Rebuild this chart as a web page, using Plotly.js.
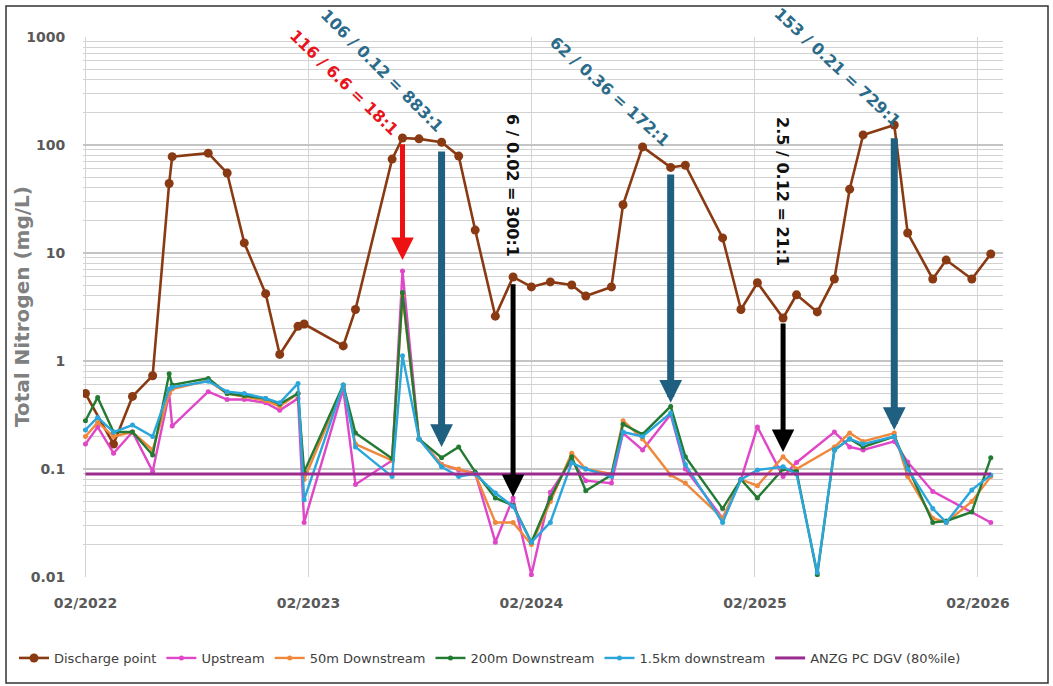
<!DOCTYPE html>
<html><head><meta charset="utf-8">
<script src="https://cdn.plot.ly/plotly-3.0.1.min.js"></script>
<style>html,body{margin:0;padding:0;background:#fff}#chart{width:1053px;height:686px}</style>
</head><body><div id="chart"></div>
<script>
// ---------- data ----------
const sampleDates = ['2022-02-01','2022-02-21','2022-03-19','2022-04-19','2022-05-22','2022-06-18','2022-06-23','2022-08-21','2022-09-21','2022-10-19','2022-11-23','2022-12-16','2023-01-15','2023-01-25','2023-03-30','2023-04-19','2023-06-18','2023-07-05','2023-08-01','2023-09-07','2023-10-05','2023-11-01','2023-12-04','2024-01-02','2024-02-01','2024-03-03','2024-04-07','2024-04-30','2024-06-11','2024-06-30','2024-08-01','2024-09-16','2024-10-10','2024-12-10','2025-01-09','2025-02-05','2025-03-19','2025-04-10','2025-05-14','2025-06-11','2025-07-06','2025-07-28','2025-09-17','2025-10-09','2025-11-19','2025-12-11','2026-01-22','2026-02-22'];
const dischargePoint = [0.5,null,0.17,0.47,0.73,44,78,84,55,12.4,4.2,1.15,2.1,2.2,1.38,3.0,74,116,114,106,79,16.3,2.6,6.0,4.85,5.4,5.05,4.0,4.85,28,96,62,65,13.8,3.0,5.3,2.5,4.1,2.85,5.75,39,124,153,15.3,5.75,8.6,5.75,9.8];
const upstream = [0.17,0.245,0.14,0.22,0.095,0.5,0.25,0.52,0.44,0.44,0.41,0.35,0.45,0.032,0.55,0.072,0.12,6.8,0.19,0.11,0.098,0.092,0.021,0.054,0.0105,0.061,0.12,0.078,0.074,0.215,0.15,0.32,0.1,0.035,0.08,0.245,0.085,0.115,null,0.22,0.16,0.15,0.18,0.116,0.062,null,null,0.032];
const down50m = [0.2,0.27,0.2,0.22,0.15,0.5,0.55,0.66,0.5,0.47,0.43,0.38,0.5,0.08,0.58,0.17,0.12,4.0,0.19,0.11,0.1,0.09,0.032,0.032,0.02,0.05,0.14,0.1,0.09,0.28,0.19,0.088,0.074,0.035,0.08,0.07,0.13,0.1,null,0.16,0.215,0.18,0.215,0.085,0.035,0.032,0.05,0.085];
const down200m = [0.28,0.46,0.22,0.22,0.135,0.76,0.6,0.69,0.5,0.48,0.45,0.4,0.5,0.094,0.6,0.215,0.125,4.3,0.19,0.127,0.16,0.094,0.054,0.046,0.021,0.054,0.13,0.063,0.088,0.26,0.21,0.38,0.13,0.043,0.08,0.054,0.1,0.095,0.0105,0.15,0.19,0.16,0.2,0.105,0.032,0.033,0.04,0.127];
const down1500m = [0.23,0.3,0.22,0.255,0.2,0.55,0.57,0.65,0.52,0.5,0.45,0.41,0.62,0.052,0.6,0.16,0.085,1.12,0.19,0.105,0.085,0.09,0.06,0.045,0.021,0.032,0.114,0.1,0.085,0.22,0.2,0.33,0.11,0.032,0.08,0.098,0.105,0.09,0.011,0.15,0.19,0.17,0.2,0.1,0.043,0.032,0.064,0.088];
const anzgDates = ['2022-02-01','2026-02-22'];
const anzgValues = [0.09,0.09];

const yTickVals = [0.01,0.1,1,10,100,1000];
const yTickText = ['0.01','0.1','1','10','100','1000'];
const xTickVals = ['2022-02-01','2023-02-01','2024-02-01','2025-02-01','2026-02-01'];
const xTickText = ['02/2022','02/2023','02/2024','02/2025','02/2026'];

// ratio arrows: from discharge value down to receiving-water value
const arrowDates = ['2023-07-05','2023-09-07','2024-01-02','2024-09-16','2025-03-19','2025-09-17'];
const arrowFrom  = [105, 90, 5.3, 55, 2.3, 119];
const arrowTo    = [8.6, 0.16, 0.055, 0.41, 0.144, 0.23];
const ratioLabels = ['116 / 6.6 = 18:1','106 / 0.12 = 883:1','6 / 0.02 = 300:1','62 / 0.36 = 172:1','2.5 / 0.12 = 21:1','153 / 0.21 = 729:1'];

// ---------- styles ----------
const arrowStyle = [
  {color:'#ee1111', width:5, size:0.9},
  {color:'#1f5f80', width:7, size:0.65},
  {color:'#000000', width:5, size:0.9},
  {color:'#1f5f80', width:7, size:0.65},
  {color:'#000000', width:5, size:0.9},
  {color:'#1f5f80', width:7, size:0.65}
];
const labelStyle = [ // pixel centre and angle
  {px:344, py:82, angle:44, color:'#e8141c'},
  {px:382, py:70, angle:45, color:'#2b6b89'},
  {px:513, py:185, angle:90, color:'#111111'},
  {px:610, py:91, angle:42, color:'#2b6b89'},
  {px:783, py:192, angle:90, color:'#111111'},
  {px:838, py:67, angle:43, color:'#2b6b89'}
];
const DAY = 86400000;
const x0ms = Date.parse('2022-02-01T00:00:00Z');
const pxPerDay = 223.3/365.25;
function pxToDate(px){
  const ms = x0ms + (px-85)/pxPerDay*DAY;
  return new Date(ms).toISOString().slice(0,19).replace('T',' ');
}
function pyToLog(py){ return 3 - (py-37)/108; }

const lineTrace = (name, y, color, mk, lw) => ({
  type:'scatter', mode:'lines+markers', name, x:sampleDates, y,
  connectgaps:true,
  line:{color, width:lw},
  marker:{color, size:mk}
});

const traces = [
  lineTrace('Discharge point', dischargePoint, '#8a3a12', 9, 2.6),
  lineTrace('Upstream', upstream, '#e046c8', 5, 2.4),
  lineTrace('50m Downstream', down50m, '#f0883c', 5, 2.4),
  lineTrace('200m Downstream', down200m, '#237a32', 5, 2.4),
  lineTrace('1.5km downstream', down1500m, '#2aa6dc', 5, 2.4),
  {type:'scatter', mode:'lines', name:'ANZG PC DGV (80%ile)', x:anzgDates, y:anzgValues,
   line:{color:'#9b2c8e', width:3}}
];

const annotations = [];
arrowDates.forEach((d,i)=>{
  const s = arrowStyle[i];
  annotations.push({
    x:d, y:Math.log10(arrowTo[i]), xref:'x', yref:'y',
    ax:d, ay:Math.log10(arrowFrom[i]), axref:'x', ayref:'y',
    text:'', showarrow:true, arrowhead:2, arrowwidth:s.width, arrowsize:s.size,
    arrowcolor:s.color, standoff:0, startstandoff:0
  });
});
ratioLabels.forEach((t,i)=>{
  const s = labelStyle[i];
  annotations.push({
    x:pxToDate(s.px), y:pyToLog(s.py), xref:'x', yref:'y',
    text:t, showarrow:false, textangle:s.angle,
    xanchor:'center', yanchor:'middle',
    font:{family:'DejaVu Sans', size:16, color:s.color, weight:'bold'}
  });
});
annotations.push({
  xref:'paper', yref:'paper', x:(22-83)/920, y:0.5, xanchor:'center', yanchor:'middle',
  text:'Total Nitrogen (mg/L)', showarrow:false, textangle:-90,
  font:{family:'DejaVu Sans', size:20, color:'#808080', weight:'bold'}
});

const minorVals = [];
[0.01,0.1,1,10,100].forEach(d=>{ for(let k=2;k<=9;k++) minorVals.push(d*k); });

const layout = {
  width:1053, height:686,
  margin:{l:83, r:50, t:37, b:109, pad:0},
  paper_bgcolor:'#ffffff', plot_bgcolor:'#ffffff',
  showlegend:true,
  legend:{orientation:'h', x:(14-83)/920, xanchor:'left', y:(577-658)/540, yanchor:'middle',
    font:{family:'DejaVu Sans', size:13, color:'#404040'}, itemwidth:30, tracegroupgap:0,
    bgcolor:'rgba(0,0,0,0)'},
  xaxis:{type:'date', range:['2022-01-28','2026-03-14'],
    tickmode:'array', tickvals:xTickVals, ticktext:xTickText,
    showgrid:true, gridcolor:'#d4d4d4', gridwidth:1, zeroline:false, showline:false,
    ticks:'outside', ticklen:13, tickcolor:'rgba(0,0,0,0)',
    tickfont:{family:'DejaVu Sans', size:14, color:'#595959', weight:'bold'}},
  yaxis:{type:'log', range:[-2,3],
    tickmode:'array', tickvals:yTickVals, ticktext:yTickText,
    showgrid:true, gridcolor:'#c4c4c4', gridwidth:1.2, zeroline:false, showline:false,
    ticks:'outside', ticklen:14, tickcolor:'rgba(0,0,0,0)',
    tickfont:{family:'DejaVu Sans', size:14, color:'#595959', weight:'bold'},
    minor:{tickmode:'array', tickvals:minorVals, showgrid:true, gridcolor:'#d2d2d2', gridwidth:1, ticks:''}},
  annotations,
  shapes:[{type:'rect', xref:'paper', yref:'paper',
    x0:(6-83)/920, x1:(1048-83)/920, y0:(577-683)/540, y1:(577-6)/540,
    line:{color:'#333333', width:1.5}, fillcolor:'rgba(0,0,0,0)', layer:'below'}]
};

Plotly.newPlot('chart', traces, layout, {displayModeBar:false, staticPlot:true});
</script>
</body></html>
